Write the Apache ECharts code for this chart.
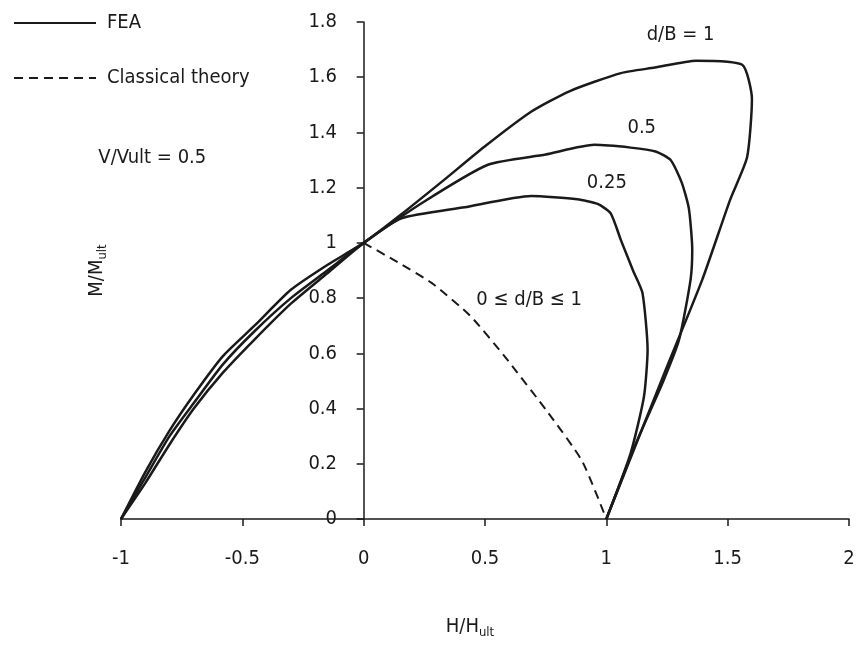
<!DOCTYPE html>
<html>
<head>
<meta charset="utf-8">
<script src="https://cdn.jsdelivr.net/npm/echarts@6/dist/echarts.min.js"></script>
<style>
  html, body { margin: 0; padding: 0; background: #fff; }
  #chart { width: 857px; height: 646px; }
</style>
</head>
<body>
<div id="chart"></div>
<script>
// H/Hult, M/Mult pairs
const fea025 = [
  [-1, 0], [-0.9, 0.13], [-0.8, 0.27], [-0.7, 0.4], [-0.58, 0.53], [-0.45, 0.65],
  [-0.3, 0.78], [-0.15, 0.89], [0, 1],
  [0.156, 1.089], [0.416, 1.129], [0.69, 1.17], [0.88, 1.158], [0.964, 1.141],
  [1.018, 1.107], [1.06, 1.01], [1.11, 0.9], [1.149, 0.818], [1.17, 0.612],
  [1.155, 0.443], [1.1, 0.238], [1.0, 0]
]
const fea05 = [
  [-1, 0], [-0.9, 0.15], [-0.8, 0.3], [-0.7, 0.42], [-0.58, 0.56], [-0.45, 0.68],
  [-0.3, 0.8], [-0.15, 0.9], [0, 1],
  [0.25, 1.15], [0.512, 1.283], [0.75, 1.32], [0.95, 1.355], [1.1, 1.345],
  [1.203, 1.331], [1.265, 1.3], [1.31, 1.22], [1.34, 1.125], [1.354, 0.975],
  [1.347, 0.866], [1.3, 0.65], [1.235, 0.5], [1.12, 0.27], [1.0, 0]
]
const fea1 = [
  [-1, 0], [-0.9, 0.17], [-0.8, 0.32], [-0.7, 0.45], [-0.58, 0.59], [-0.45, 0.7],
  [-0.3, 0.83], [-0.15, 0.92], [0, 1],
  [0.15, 1.1], [0.32, 1.22], [0.5, 1.35], [0.69, 1.475], [0.85, 1.55],
  [1.06, 1.615], [1.2, 1.635], [1.37, 1.66], [1.56, 1.645], [1.6, 1.52],
  [1.58, 1.31], [1.51, 1.156], [1.395, 0.866], [1.24, 0.53], [1.0, 0]
]
const classical = [
  [0, 1], [0.14, 0.93], [0.28, 0.855], [0.44, 0.735], [0.58, 0.59],
  [0.76, 0.385], [0.9, 0.21], [1.0, 0]
]
// text notes on the plot: [H, M, text]
const notes = [
  [1.306, 1.754, 'd/B = 1'],
  [1.146, 1.417, '0.5'],
  [1.002, 1.217, '0.25'],
  [0.682, 0.793, '0 ≤ d/B ≤ 1'],
  [-0.871, 1.308, 'V/Vult = 0.5']
]

const font = "'DejaVu Sans Condensed', 'Liberation Sans Narrow', 'Liberation Sans', sans-serif"
const ink = '#1a1a1a'

const feaLine = (data) => ({
  name: 'FEA',
  type: 'line',
  data: data,
  symbol: 'none',
  smooth: 0.2,
  lineStyle: { color: ink, width: 2.5 },
  itemStyle: { color: ink },
  z: 3
})

const chartInstance = echarts.init(document.getElementById('chart'))

const option = {
  animation: false,
  textStyle: { fontFamily: font },
  legend: {
    orient: 'vertical',
    left: 8,
    top: 8,
    itemWidth: 82,
    itemHeight: 14,
    itemGap: 35,
    itemStyle: { opacity: 0 },
    data: ['FEA', 'Classical theory'],
    textStyle: { fontFamily: font, fontSize: 20, color: ink, padding: [0, 0, 0, 6] }
  },
  grid: { left: 121, right: 8, top: 22, bottom: 127, outerBoundsMode: 'none' },
  xAxis: {
    type: 'value',
    min: -1,
    max: 2,
    interval: 0.5,
    name: 'H/H{b|ult}',
    nameLocation: 'middle',
    nameGap: 95,
    nameTextStyle: {
      fontFamily: font, fontSize: 20, color: ink, padding: [0, 30, 0, 0],
      rich: { b: { fontFamily: font, fontSize: 13, color: ink, padding: [12, 0, 0, 0] } }
    },
    axisLine: { lineStyle: { color: ink, width: 1.5 } },
    axisTick: { length: 7, lineStyle: { color: ink, width: 1.5 } },
    axisLabel: { margin: 30, fontFamily: font, fontSize: 20, color: ink },
    splitLine: { show: false }
  },
  yAxis: {
    type: 'value',
    min: 0,
    max: 1.8,
    interval: 0.2,
    name: 'M/M{b|ult}',
    nameLocation: 'middle',
    nameGap: 12,
    nameRotate: 90,
    nameTextStyle: {
      fontFamily: font, fontSize: 20, color: ink,
      rich: { b: { fontFamily: font, fontSize: 13, color: ink, padding: [12, 0, 0, 0] } }
    },
    axisLine: { show: true, onZero: true, lineStyle: { color: ink, width: 1.5 } },
    axisTick: { show: true, length: 7, lineStyle: { color: ink, width: 1.5 } },
    axisLabel: { margin: -216, fontFamily: font, fontSize: 20, color: ink },
    splitLine: { show: false }
  },
  series: [
    feaLine(fea025),
    feaLine(fea05),
    feaLine(fea1),
    {
      name: 'Classical theory',
      type: 'line',
      data: classical,
      symbol: 'none',
      smooth: 0.2,
      lineStyle: { color: ink, width: 2, type: [9, 6] },
      itemStyle: { color: ink },
      z: 2
    },
    {
      name: 'notes',
      type: 'scatter',
      data: notes.map((n) => ({ value: [n[0], n[1]], label: { formatter: n[2] } })),
      symbolSize: 0,
      silent: true,
      itemStyle: { opacity: 1, color: ink },
      label: {
        show: true,
        position: 'inside',
        fontFamily: font,
        fontSize: 20,
        color: ink,
        opacity: 1
      }
    }
  ]
}

chartInstance.setOption(option)
</script>
</body>
</html>
